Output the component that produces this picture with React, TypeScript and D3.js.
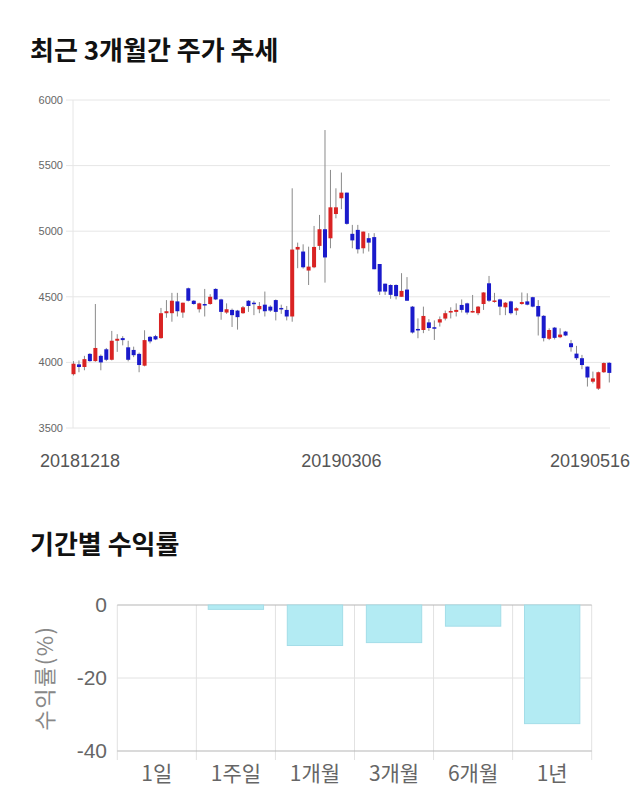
import React from "react";
import * as d3 from "d3";

const dates: string[] = [
  "20181218","20181219","20181220","20181221","20181224","20181226","20181227","20181228",
  "20190102","20190103","20190104","20190107","20190108","20190109","20190110","20190111",
  "20190114","20190115","20190116","20190117","20190118","20190121","20190122","20190123",
  "20190124","20190125","20190128","20190129","20190130","20190131",
  "20190201","20190207","20190208","20190211","20190212","20190213","20190214","20190215",
  "20190218","20190219","20190220","20190221","20190222","20190225","20190226","20190227","20190228",
  "20190304","20190305","20190306","20190307","20190308","20190311","20190312","20190313",
  "20190314","20190315","20190318","20190319","20190320","20190321","20190322","20190325",
  "20190326","20190327","20190328","20190329",
  "20190401","20190402","20190403","20190404","20190405","20190408","20190409","20190410",
  "20190411","20190412","20190415","20190416","20190417","20190418","20190419","20190422",
  "20190423","20190424","20190425","20190426","20190429","20190430",
  "20190502","20190503","20190507","20190508","20190509","20190510","20190513","20190514",
  "20190515","20190516"
];

const opens: number[] = [
  3910,3985,3965,4065,4010,4050,4100,4020,4165,4185,4115,4095,4065,3975,4195,4200,4185,4375,4375,4465,
  4380,4565,4470,4405,4445,4445,4560,4480,4380,4400,4395,4375,4470,4455,4405,4440,4425,4475,4415,4400,
  4350,4860,4845,4700,4725,4888,5015,4946,5131,5251,5294,4980,5010,4870,4947,4955,4750,4600,4590,4590,
  4500,4555,4425,4255,4247,4305,4268,4304,4334,4380,4385,4438,4450,4380,4375,4445,4603,4465,4480,4420,
  4465,4395,4445,4465,4497,4430,4355,4180,4265,4192,4235,4146,4067,4032,3968,3853,3800,3925,3997
];
const highs: number[] = [
  4010,4015,4050,4070,4445,4060,4110,4240,4215,4200,4165,4120,4075,4245,4200,4210,4415,4475,4530,4530,
  4455,4570,4475,4455,4560,4520,4565,4485,4450,4410,4400,4430,4475,4470,4460,4540,4435,4480,4440,4430,
  5327,4913,4900,4882,5040,5124,5771,5467,5327,5447,5294,5048,5048,4997,4985,4985,4750,4600,4595,4595,
  4680,4650,4430,4336,4425,4330,4320,4350,4395,4420,4450,4480,4455,4514,4430,4535,4659,4530,4485,4460,
  4470,4420,4533,4527,4500,4475,4360,4260,4270,4260,4240,4171,4126,4057,3968,3930,3930,4000,4000
];
const lows: number[] = [
  3900,3925,3940,4005,4005,3940,4010,4015,4080,4130,4008,4040,3925,3970,4145,4170,4180,4340,4310,4350,
  4340,4465,4440,4380,4350,4440,4475,4325,4370,4270,4250,4370,4385,4360,4375,4350,4385,4320,4370,4320,
  4310,4718,4715,4590,4718,4857,4608,4870,5098,5168,5050,4870,4830,4830,4845,4710,4514,4514,4485,4480,
  4500,4470,4220,4184,4223,4240,4171,4273,4320,4335,4350,4380,4365,4380,4360,4400,4460,4455,4360,4360,
  4365,4360,4440,4435,4420,4205,4160,4170,4175,4185,4200,4082,4018,3948,3816,3840,3790,3920,3847
];
const closes: number[] = [
  3990,3965,4025,4010,4110,4000,4020,4165,4180,4170,4020,4055,3980,4170,4160,4175,4375,4390,4470,4390,
  4455,4470,4445,4450,4440,4500,4480,4385,4405,4360,4345,4420,4430,4450,4430,4390,4395,4385,4405,4350,
  4860,4880,4725,4730,4880,5015,4800,5182,5182,5294,5056,4930,4862,4997,4913,4710,4540,4540,4515,4505,
  4545,4470,4228,4245,4354,4262,4260,4329,4375,4392,4400,4400,4380,4392,4425,4533,4470,4472,4425,4455,
  4375,4413,4460,4440,4425,4350,4185,4247,4187,4212,4205,4116,4032,3980,3885,3878,3925,3995,3920
];

const priceTicks: number[] = [3500, 4000, 4500, 5000, 5500, 6000];
const dateLabels: string[] = ["20181218", "20190306", "20190516"];

const periods: string[] = ["1일", "1주일", "1개월", "3개월", "6개월", "1년"];
const returns: number[] = [0, -1.2, -11.1, -10.3, -5.8, -32.5];
const returnTicks: number[] = [0, -20, -40];

const FONT = "'Liberation Sans', Arial, 'Noto Sans CJK KR', sans-serif";
const KFONT = "'Noto Sans CJK KR', 'Liberation Sans', sans-serif";

export default function App() {
  const W = 640, H = 810;
  // candle chart
  const x = d3.scaleLinear().domain([0, dates.length - 1]).range([73.5, 609.3]);
  const y = d3.scaleLinear().domain([3500, 6000]).range([428, 100]);
  const plotL = 73, plotR = 610;
  const bodyW = 4;

  const labelX = (d: string) => {
    const i = dates.indexOf(d);
    const cx = x(i);
    const half = 40;
    return Math.max(40 + half, Math.min(630 - half, cx));
  };

  // bar chart
  const bL = 117.3, bR = 591.7;
  const xb = d3.scaleBand<string>().domain(periods).range([bL, bR]).paddingInner(0.3).paddingOuter(0.15);
  const yb = d3.scaleLinear().domain([-40, 0]).range([751, 605]);
  const step = xb.step();

  return (
    <svg width={W} height={H} style={{ position: "absolute", left: 0, top: 0, background: "#fff" }}>
      <rect x={0} y={0} width={W} height={H} fill="#fff" />
      <text x={30} y={60} fontFamily={KFONT} fontWeight={700} fontSize={26} fill="#111">최근 3개월간 주가 추세</text>

      {priceTicks.map((t) => (
        <g key={t}>
          <line x1={66} x2={plotR} y1={y(t)} y2={y(t)} stroke="#e6e6e6" strokeWidth={1} />
          <text x={63} y={y(t)} dy="0.35em" textAnchor="end" fontFamily={FONT} fontSize={11} fill="#666">{t}</text>
        </g>
      ))}
      <line x1={plotL} x2={plotL} y1={y(6000)} y2={y(3500)} stroke="#e6e6e6" strokeWidth={1} />

      {dates.map((d, i) => {
        const o = opens[i], c = closes[i], h = highs[i], l = lows[i];
        const up = c >= o;
        const cx = x(i);
        const top = y(Math.max(o, c));
        const bot = y(Math.min(o, c));
        return (
          <g key={d}>
            <line x1={cx} x2={cx} y1={y(h)} y2={y(l)} stroke="#8a8a8a" strokeWidth={1} />
            <rect x={cx - bodyW / 2} y={top} width={bodyW} height={Math.max(1.5, bot - top)} fill={up ? "#d92323" : "#1a1acb"} />
          </g>
        );
      })}

      {dateLabels.map((d) => (
        <text key={d} x={labelX(d)} y={467} textAnchor="middle" fontFamily={FONT} fontSize={18} fill="#555">{d}</text>
      ))}

      <text x={30} y={554} fontFamily={KFONT} fontWeight={700} fontSize={26} fill="#111">기간별 수익률</text>

      {periods.map((p, i) => (
        <line key={"v" + p} x1={bL + i * step} x2={bL + i * step} y1={yb(0)} y2={yb(-40) + 9} stroke="#e2e2e2" strokeWidth={1} />
      ))}
      <line x1={bR} x2={bR} y1={yb(0)} y2={yb(-40) + 9} stroke="#e2e2e2" strokeWidth={1} />

      {returnTicks.map((t) => (
        <g key={t}>
          <line x1={bL} x2={bR} y1={yb(t)} y2={yb(t)} stroke={t === -20 ? "#e2e2e2" : "#b5b5b5"} strokeWidth={1} />
          <text x={107} y={yb(t)} dy="0.35em" textAnchor="end" fontFamily={FONT} fontSize={21} fill="#666">{t}</text>
        </g>
      ))}

      {periods.map((p, i) => {
        const v = returns[i];
        const y0 = yb(0), y1 = yb(v);
        return (
          <rect key={"b" + p} x={xb(p)!} y={Math.min(y0, y1)} width={xb.bandwidth()} height={Math.abs(y1 - y0)}
            fill="#b3ebf3" stroke="#a3dde8" strokeWidth={1} />
        );
      })}

      {periods.map((p) => (
        <text key={"l" + p} x={xb(p)! + xb.bandwidth() / 2} y={781} textAnchor="middle" fontFamily={KFONT} fontSize={21} fill="#666">{p}</text>
      ))}

      <text transform={`translate(53, ${yb(-20)}) rotate(-90)`} textAnchor="middle" fontFamily={KFONT} fontSize={22} letterSpacing={1.5} fill="#888">수익률(%)</text>
    </svg>
  );
}
